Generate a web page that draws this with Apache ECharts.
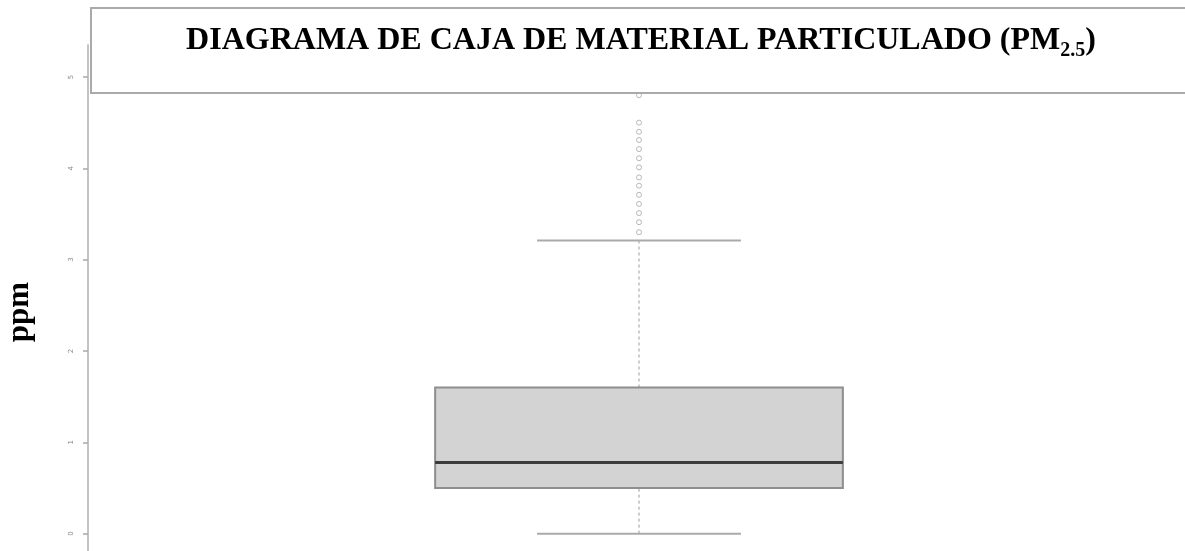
<!DOCTYPE html>
<html>
<head>
<meta charset="utf-8">
<script src="https://cdn.jsdelivr.net/npm/echarts@6/dist/echarts.min.js"></script>
<style>
  html, body { margin: 0; padding: 0; background: #fff; }
  #chart { width: 1185px; height: 551px; }
</style>
</head>
<body>
<div id="chart"></div>
<script>
// ---- datos
var categories = ['PM2.5'];
// [indice, minimo, Q1, mediana, Q3, maximo]
var boxStats = [[0, 0.0, 0.5, 0.78, 1.6, 3.21]];
var outliers = [3.30, 3.41, 3.51, 3.61, 3.71, 3.81, 3.90, 4.01, 4.11, 4.21, 4.31, 4.40, 4.50, 4.80];
var yTicks = [0, 1, 2, 3, 4, 5];

var chart = echarts.init(document.getElementById('chart'));

var option = {
    animation: false,
    backgroundColor: '#fff',
    title: {
        left: 636,
        top: 20,
        textAlign: 'center',
        text: '{a|DIAGRAMA DE CAJA DE MATERIAL PARTICULADO (PM}{b|2.5}{a|)}',
        textStyle: {
            rich: {
                a: { fontFamily: 'Liberation Serif', fontWeight: 'bold', fontSize: 32, color: '#000' },
                b: { fontFamily: 'Liberation Serif', fontWeight: 'bold', fontSize: 20, color: '#000', verticalAlign: 'bottom', padding: [0, 0, -4, 0] }
            }
        },
        z: 20
    },
    graphic: [{
        // recuadro del titulo
        type: 'rect',
        z: 15,
        shape: { x: 91, y: 8, width: 1110, height: 85 },
        style: { fill: '#fff', stroke: '#aaaaaa', lineWidth: 2 }
    }],
    grid: {
        left: 88,
        right: -5,
        top: 45,
        bottom: 0,
        outerBoundsMode: 'none'
    },
    xAxis: {
        type: 'category',
        data: categories,
        show: false
    },
    yAxis: {
        type: 'value',
        min: -0.19,
        max: 5.35,
        name: 'ppm',
        nameLocation: 'middle',
        nameRotate: 90,
        nameGap: 53,
        nameTextStyle: {
            fontFamily: 'Liberation Serif',
            fontWeight: 'bold',
            fontSize: 31,
            color: '#000',
            padding: [0, 28, 0, 0]
        },
        splitLine: { show: false },
        axisLine: { show: true, lineStyle: { color: '#c4c4c4', width: 2 } },
        axisTick: {
            show: true,
            inside: false,
            length: 5,
            customValues: yTicks,
            lineStyle: { color: '#a8a8a8', width: 1.5 }
        },
        axisLabel: {
            customValues: yTicks,
            rotate: 90,
            margin: 13,
            fontSize: 7,
            color: '#8a8a8a',
            fontFamily: 'DejaVu Sans'
        }
    },
    series: [{
        type: 'custom',
        data: boxStats,
        encode: { x: 0, y: [1, 2, 3, 4, 5] },
        renderItem: function (params, api) {
            var idx = api.value(0);
            var band = api.size([1, 0])[0];
            var half = band * 0.185;
            var cap = band * 0.0925;
            var pMin = api.coord([idx, api.value(1)]);
            var pQ1 = api.coord([idx, api.value(2)]);
            var pMed = api.coord([idx, api.value(3)]);
            var pQ3 = api.coord([idx, api.value(4)]);
            var pMax = api.coord([idx, api.value(5)]);
            var cx = pMin[0];
            return {
                type: 'group',
                children: [{
                    type: 'line',
                    shape: { x1: cx, y1: pQ3[1], x2: cx, y2: pMax[1] },
                    style: { stroke: '#999', lineWidth: 1, lineDash: [3, 3] }
                }, {
                    type: 'line',
                    shape: { x1: cx, y1: pMin[1], x2: cx, y2: pQ1[1] },
                    style: { stroke: '#999', lineWidth: 1, lineDash: [3, 3] }
                }, {
                    type: 'line',
                    shape: { x1: cx - cap, y1: pMax[1], x2: cx + cap, y2: pMax[1] },
                    style: { stroke: '#aaa', lineWidth: 2 }
                }, {
                    type: 'line',
                    shape: { x1: cx - cap, y1: pMin[1], x2: cx + cap, y2: pMin[1] },
                    style: { stroke: '#aaa', lineWidth: 2 }
                }, {
                    type: 'rect',
                    shape: { x: cx - half, y: pQ3[1], width: half * 2, height: pQ1[1] - pQ3[1] },
                    style: { fill: '#d3d3d3', stroke: '#8e8e8e', lineWidth: 2 }
                }, {
                    type: 'line',
                    shape: { x1: cx - half, y1: pMed[1], x2: cx + half, y2: pMed[1] },
                    style: { stroke: '#3c3c3c', lineWidth: 3 }
                }]
            };
        }
    }, {
        type: 'scatter',
        data: outliers.map(function (v) { return [0, v]; }),
        symbol: 'circle',
        symbolSize: 5,
        itemStyle: { color: '#fff', borderColor: '#a8a8a8', borderWidth: 1 }
    }]
};

chart.setOption(option);
</script>
</body>
</html>
